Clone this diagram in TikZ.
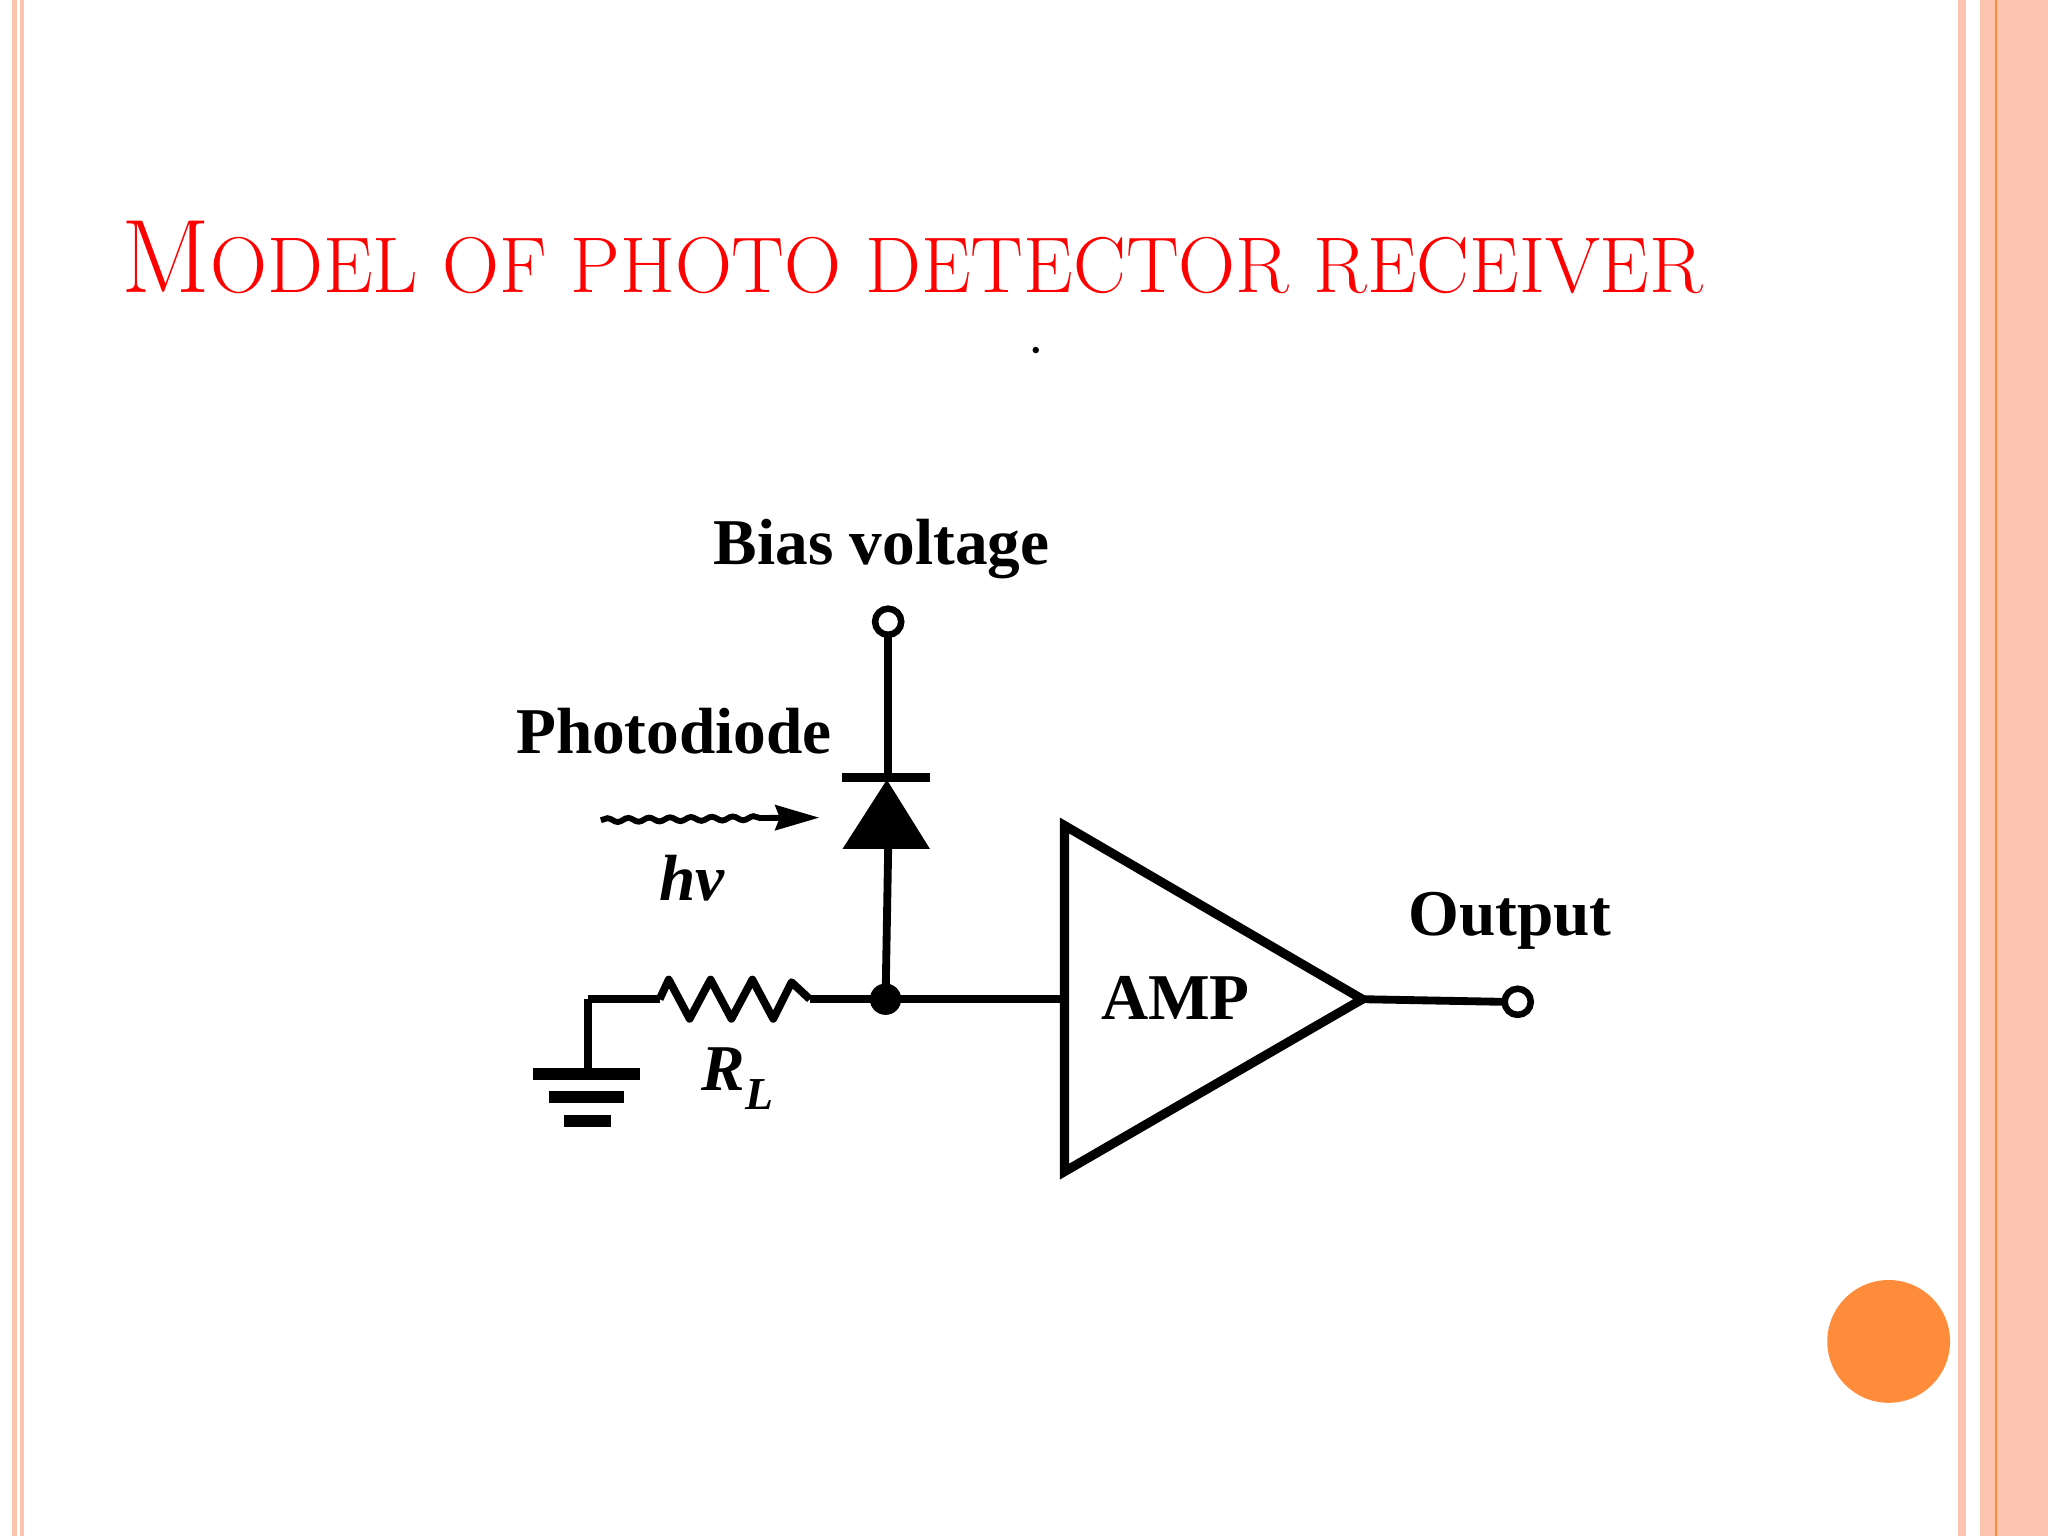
\documentclass[tikz,border=0pt]{standalone}
\usepackage{fontspec}
\setmainfont{Liberation Serif}
\newfontfamily\lmr{Latin Modern Roman}
\usetikzlibrary{decorations.pathmorphing,arrows.meta}
\definecolor{pk}{HTML}{FDC5B0}
\definecolor{org}{HTML}{FF8C3A}
\tikzset{wire/.style={line width=6pt},lbl/.style={font=\fontsize{50}{54}\selectfont\bfseries}}
\begin{document}
\begin{tikzpicture}[x=1pt,y=-1pt]
\useasboundingbox (0,0) rectangle (1568,1176);
\fill[white] (0,0) rectangle (1568,1176);
% borders
\fill[pk] (9,0) rectangle (13,1176);
\fill[pk] (15,0) rectangle (18,1176);
\fill[pk] (1499,0) rectangle (1505,1176);
\fill[pk] (1516,0) rectangle (1568,1176);
\draw[org,line width=1.2pt] (1528,0) -- (1528,1176);
% title
\node[anchor=west,text=red,inner sep=0pt] (title) at (93,197) {\lmr\fontsize{80}{90}\selectfont M\fontsize{60.5}{70}\selectfont ODEL OF PHOTO DETECTOR RECEIVER};
\fill (793,268) circle (2.5);
% nodes
\coordinate (bias) at (680,476);
\coordinate (dtop) at (680,595);
\coordinate (dbot) at (680,650);
\coordinate (j) at (678,765);
\coordinate (rr) at (620,765);
\coordinate (rl) at (505,765);
\coordinate (g) at (450,765);
\coordinate (gb) at (450,822);
\coordinate (ain) at (815,765);
\coordinate (aout) at (1043,765);
\coordinate (out) at (1162,767);
\draw[wire] (bias) ++(0,11) -- (dtop);
\draw[line width=5pt] (bias) circle (10);
\draw[line width=7pt] (645,595) -- (712,595);
\fill (645,650) -- (712,650) -- (679,597) -- cycle;
\draw[wire] (dbot) -- (j);
\fill (j) circle (12);
\draw[wire] (g) -- (rl);
\draw[wire,line join=round] (rl) -- (512,750) -- (528,780) -- (544,750) -- (560,780) -- (576,750) -- (592,780) -- (606,752) -- (rr);
\draw[wire] (rr) -- (j) -- (ain);
\draw[wire] (g) -- (gb);
\draw[line width=9pt] (408,822) -- (490,822);
\draw[line width=9pt] (420,840) -- (478,840);
\draw[line width=9pt] (432,858) -- (468,858);
\draw[line width=7pt,line join=miter] (815,632) -- (815,897) -- (aout) -- cycle;
\draw[wire] (aout) -- (1150,767);
\draw[line width=5pt] (out) circle (10);
% light
\draw[line width=4.5pt,decorate,decoration={snake,amplitude=1.5pt,segment length=16pt,post length=20pt}] (460,628) -- (605,626);
\fill (627,626) -- (593,616) -- (597,626) -- (593,636) -- cycle;
% labels
\node[lbl] (lb) at (675,420) {Bias voltage};
\node[lbl] (lp) at (516,560) {Photodiode};
\node[lbl,font=\fontsize{50}{54}\selectfont\bfseries\itshape] (lh) at (530,672) {hν};
\node[lbl,font=\fontsize{50}{54}\selectfont\bfseries\itshape] (lr) at (565,826) {R\textsubscript{\itshape L}};
\node[lbl] (la) at (900,764) {AMP};
\node[lbl] (lo) at (1156,705) {Output};
\fill[org] (1446,1027) circle (47);
\end{tikzpicture}
\end{document}
